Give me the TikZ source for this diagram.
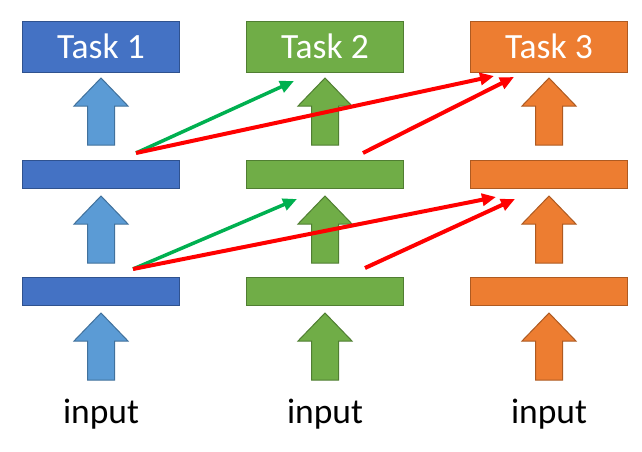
\documentclass[tikz,border=0pt]{standalone}
\usepackage{fontspec}
\setmainfont{Carlito}
\usetikzlibrary{arrows.meta,positioning,calc}
\definecolor{tblue}{HTML}{4472C4}
\definecolor{tblueedge}{HTML}{2F528F}
\definecolor{tbluearr}{HTML}{5B9BD5}
\definecolor{tbluearredge}{HTML}{41719C}
\definecolor{tgreen}{HTML}{70AD47}
\definecolor{tgreenedge}{HTML}{507E32}
\definecolor{torange}{HTML}{ED7D31}
\definecolor{torangeedge}{HTML}{AE5A21}
\definecolor{linkgreen}{HTML}{00B050}
\definecolor{linkred}{HTML}{FF0000}

\begin{document}
\begin{tikzpicture}[x=1pt, y=-1pt,
  taskbox/.style={draw=#1edge, fill=#1, line width=1pt, minimum width=157pt,
    minimum height=51pt, inner sep=0pt, text=white, font=\fontsize{35.5}{40}\selectfont},
  hidbar/.style={draw=#1edge, fill=#1, line width=1pt, minimum width=157pt,
    minimum height=28pt, inner sep=0pt},
  blockarr/.style={draw=#1edge, fill=#1, line width=1pt, line join=miter},
  link/.style={line width=#1, -{Triangle[length=14pt, width=12pt]}},
]
\useasboundingbox (0,0) rectangle (642,451);
% ---------------- columns: task, two hidden layers, input ----------------
\foreach \n/\x/\c/\a in {1/101/tblue/tbluearr, 2/325/tgreen/tgreen, 3/549/torange/torange}{
  \foreach \t in {78,196,313}{
    \draw[blockarr=\a] (\x,\t) -- ++(27,28) -- ++(-13.5,0) -- ++(0,39)
      -- ++(-27,0) -- ++(0,-39) -- ++(-13.5,0) -- cycle;
  }
  \node[taskbox=\c] (task\n) at (\x,46.5) {Task \n};
  \node[hidbar=\c] (hidA\n) at (\x,174.5) {};
  \node[hidbar=\c] (hidB\n) at (\x,291) {};
  \node[anchor=base, font=\fontsize{35.5}{40}\selectfont] (in\n) at (\x,423) {input};
}
% ---------------- lateral links ----------------
\coordinate (fromA1) at (136,153);
\coordinate (fromA2) at (363,153);
\coordinate (toA2) at (294,81);
\coordinate (toA3a) at (494,76);
\coordinate (toA3b) at (514,77);
\coordinate (fromB1) at (133,269);
\coordinate (fromB2) at (365,268);
\coordinate (toB2) at (297,199);
\coordinate (toB3a) at (496,197);
\coordinate (toB3b) at (515,199);
\draw[link=3.5pt, linkgreen] (fromA1) -- (toA2);
\draw[link=4pt, linkred] (fromA1) -- (toA3a);
\draw[link=4pt, linkred] (fromA2) -- (toA3b);
\draw[link=3.5pt, linkgreen] (fromB1) -- (toB2);
\draw[link=4pt, linkred] (fromB1) -- (toB3a);
\draw[link=4pt, linkred] (fromB2) -- (toB3b);
\end{tikzpicture}
\end{document}
